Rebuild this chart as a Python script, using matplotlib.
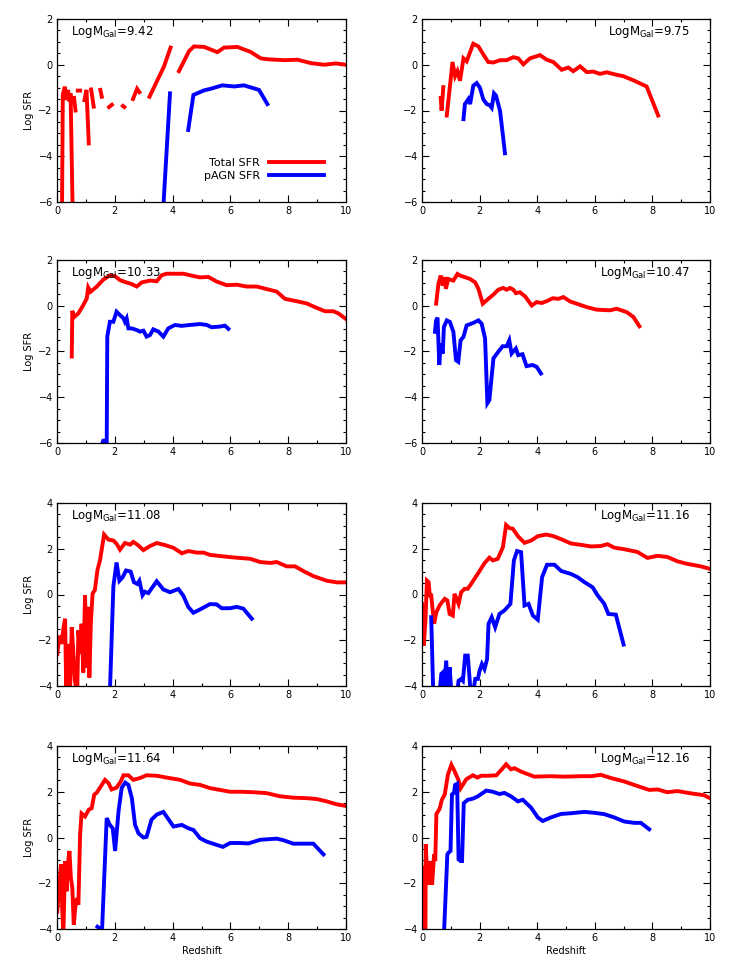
import numpy as np
import matplotlib
matplotlib.use("Agg")
import matplotlib.pyplot as plt
from matplotlib.ticker import MultipleLocator

plt.rcParams['font.family'] = ['DejaVu Sans']
plt.rcParams['mathtext.default'] = 'regular'

N = np.nan
BOT = -7.0  # value drawn below the axis floor (log of ~0)

# ---------------- data ----------------
labels = ['9.42', '9.75', '10.33', '10.47', '11.08', '11.16', '11.64', '12.16']

z1_tot = [0.17, 0.20, 0.27, 0.33, 0.38, 0.42, 0.47, 0.55, N, 0.59, 0.64, N, 0.72, 0.80, N,
          0.95, 1.02, 1.10, N, 1.18, 1.27, N, 1.50, 1.55, N, 1.80, 1.90, N, 2.28, 2.33, N,
          2.63, 2.77, 2.85, N, 3.20, 3.70, 3.93, N, 4.22, 4.57, 4.74, 5.09, 5.55, 5.78, 6.24,
          6.70, 7.05, 7.28, 7.86, 8.32, 8.79, 9.25, 9.65, 10.0]
s1_tot = [BOT, -1.32, -0.96, -1.54, -1.10, -1.60, -1.25, BOT, N, -1.45, -2.00, N, -1.13, -1.13, N,
          -1.55, -1.10, -3.44, N, -1.08, -1.83, N, -1.10, -1.40, N, -1.85, -1.75, N, -1.80, -1.85, N,
          -1.50, -1.05, -1.20, N, -1.40, -0.08, 0.75, N, -0.28, 0.60, 0.80, 0.78, 0.55, 0.75, 0.78,
          0.56, 0.28, 0.24, 0.20, 0.22, 0.07, 0.00, 0.06, 0.00]
z1_agn = [3.68, 3.91, N, 4.54, 4.72, 5.09, 5.32, 5.72, 6.13, 6.47, 6.99, 7.28]
s1_agn = [-6.2, -1.25, N, -2.85, -1.32, -1.12, -1.05, -0.90, -0.95, -0.90, -1.10, -1.72]

z2_tot = [0.65, 0.68, 0.74, N, 0.86, 1.06, 1.15, 1.23, 1.32, 1.44, 1.55, 1.78, 1.96, 2.13,
          2.30, 2.48, 2.71, 2.94, 3.17, 3.34, 3.52, 3.75, 4.10, 4.33, 4.56, 4.85, 5.08, 5.25,
          5.49, 5.72, 5.95, 6.18, 6.41, 6.76, 6.99, 7.34, 7.80, 8.20]
s2_tot = [-1.45, -2.00, -0.98, N, -2.22, 0.12, -0.50, -0.28, -0.70, 0.28, 0.15, 0.92, 0.80, 0.45,
          0.12, 0.10, 0.20, 0.20, 0.33, 0.28, 0.02, 0.28, 0.42, 0.22, 0.12, -0.22, -0.12, -0.28,
          -0.07, -0.32, -0.30, -0.40, -0.33, -0.44, -0.50, -0.68, -0.95, -2.22]
z2_agn = [1.44, 1.49, 1.61, 1.67, 1.78, 1.90, 2.01, 2.13, 2.25, 2.36, 2.42, 2.50, 2.57, 2.71, 2.82, 2.88]
s2_agn = [-2.38, -1.72, -1.50, -1.72, -0.92, -0.80, -1.00, -1.52, -1.72, -1.78, -1.88, -1.25, -1.35,
          -2.02, -3.20, -3.87]

z3_tot = [0.51, 0.53, 0.59, 0.74, 0.91, 1.03, 1.08, 1.16, 1.37, 1.60, 1.83, 2.00, 2.18, 2.35,
          2.58, 2.76, 2.93, 3.22, 3.45, 3.62, 3.79, 4.37, 4.72, 4.95, 5.24, 5.52, 5.87, 6.22,
          6.56, 6.91, 7.25, 7.60, 7.89, 8.29, 8.64, 8.98, 9.27, 9.56, 9.73, 10.0]
s3_tot = [-2.22, -0.22, -0.50, -0.33, 0.03, 0.32, 0.80, 0.61, 0.83, 1.14, 1.33, 1.30, 1.12, 1.04,
          0.95, 0.84, 1.02, 1.10, 1.07, 1.33, 1.40, 1.40, 1.30, 1.24, 1.26, 1.06, 0.90, 0.92,
          0.84, 0.84, 0.73, 0.62, 0.30, 0.20, 0.10, -0.09, -0.24, -0.24, -0.33, -0.58]
z3_agn = [1.55, 1.60, 1.66, 1.72, 1.74, 1.83, 1.95, 2.06, 2.18, 2.30, 2.35, 2.41, 2.47, 2.58,
          2.76, 2.87, 2.99, 3.10, 3.22, 3.33, 3.51, 3.68, 3.85, 4.08, 4.31, 4.60, 4.95, 5.18,
          5.35, 5.64, 5.81, 5.93]
s3_agn = [-6.1, -5.9, -5.9, -6.1, -1.35, -0.70, -0.70, -0.26, -0.41, -0.55, -0.70, -0.55, -0.99,
          -0.99, -1.06, -1.13, -1.09, -1.35, -1.28, -1.03, -1.13, -1.35, -0.99, -0.84, -0.88,
          -0.84, -0.80, -0.84, -0.94, -0.91, -0.87, -1.01]

z4_tot = [0.49, 0.57, 0.65, 0.72, 0.80, 0.83, 0.91, 1.09, 1.23, 1.32, 1.49, 1.67, 1.84, 1.96,
          2.11, 2.30, 2.48, 2.65, 2.82, 2.94, 3.06, 3.17, 3.26, 3.40, 3.58, 3.81, 3.98, 4.16,
          4.33, 4.54, 4.73, 4.91, 5.14, 5.37, 5.72, 6.06, 6.53, 6.76, 7.11, 7.34, 7.55]
s4_tot = [0.09, 0.96, 1.32, 0.88, 1.25, 0.74, 1.17, 1.10, 1.39, 1.32, 1.25, 1.17, 1.03, 0.74,
          0.09, 0.30, 0.49, 0.70, 0.78, 0.70, 0.78, 0.70, 0.55, 0.59, 0.41, 0.01, 0.16, 0.12,
          0.20, 0.33, 0.30, 0.38, 0.19, 0.09, -0.06, -0.17, -0.20, -0.13, -0.28, -0.49, -0.90]
z4_agn = [0.45, 0.49, 0.54, 0.60, 0.65, 0.72, 0.76, 0.86, 0.97, 1.09, 1.18, 1.26, 1.34, 1.44,
          1.55, 1.78, 1.96, 2.07, 2.19, 2.27, 2.34, 2.48, 2.65, 2.80, 2.94, 3.03, 3.11, 3.26,
          3.34, 3.49, 3.63, 3.84, 3.98, 4.13]
s4_agn = [-1.14, -0.64, -0.52, -2.59, -1.65, -2.09, -0.93, -0.64, -0.71, -1.14, -2.38, -2.45,
          -1.51, -1.36, -0.86, -0.75, -0.64, -0.78, -1.43, -4.26, -4.12, -2.30, -2.01, -1.77,
          -1.77, -1.51, -2.09, -1.87, -2.16, -2.12, -2.64, -2.59, -2.67, -2.96]

z5_tot = [0.01, 0.08, 0.16, 0.22, 0.28, 0.32, 0.37, 0.45, 0.51, 0.57, 0.62, 0.70, 0.74, 0.80,
          0.85, 0.91, 0.97, 1.03, 1.08, 1.12, 1.17, 1.23, 1.31, 1.40, 1.49, 1.63, 1.78, 1.95,
          2.06, 2.18, 2.35, 2.53, 2.64, 2.81, 2.99, 3.22, 3.45, 3.74, 4.03, 4.32, 4.55, 4.84,
          5.07, 5.30, 5.65, 6.11, 6.69, 7.03, 7.38, 7.60, 7.95, 8.24, 8.53, 8.88, 9.34, 9.68, 10.0]
s5_tot = [-2.60, -1.80, -2.16, -1.50, -1.06, -4.30, -2.16, -4.30, -1.43, -2.60, -3.78, -4.30,
          -1.57, -2.60, -1.28, -3.41, -0.03, -3.19, -0.54, -3.63, -1.28, 0.04, 0.19, 1.07, 1.51,
          2.62, 2.40, 2.36, 2.22, 1.96, 2.25, 2.18, 2.30, 2.15, 1.94, 2.12, 2.25, 2.16, 2.04,
          1.80, 1.90, 1.83, 1.83, 1.73, 1.68, 1.62, 1.56, 1.42, 1.38, 1.42, 1.23, 1.23, 1.02,
          0.80, 0.60, 0.53, 0.53]
z5_agn = [1.83, 1.95, 2.06, 2.16, 2.27, 2.39, 2.55, 2.66, 2.78, 2.85, 2.96, 3.04, 3.16, 3.45,
          3.68, 3.91, 4.20, 4.37, 4.54, 4.72, 5.00, 5.29, 5.52, 5.70, 5.99, 6.22, 6.45, 6.74]
s5_agn = [-4.3, 0.34, 1.40, 0.60, 0.75, 1.05, 1.00, 0.54, 0.46, 0.60, -0.03, 0.12, 0.06, 0.58,
          0.22, 0.10, 0.24, -0.05, -0.54, -0.80, -0.62, -0.42, -0.43, -0.60, -0.60, -0.54,
          -0.62, -1.06]

z6_tot = [0.00, 0.06, 0.12, 0.17, 0.23, 0.27, 0.32, 0.42, 0.50, 0.61, 0.69, 0.79, 0.88, 0.96,
          1.07, 1.13, 1.27, 1.36, 1.48, 1.59, 1.71, 1.94, 2.17, 2.34, 2.46, 2.63, 2.81, 2.92,
          3.04, 3.15, 3.33, 3.56, 3.79, 4.02, 4.31, 4.54, 4.83, 5.17, 5.52, 5.87, 6.21, 6.44,
          6.67, 7.02, 7.48, 7.83, 8.18, 8.52, 8.87, 9.21, 9.68, 10.0]
s6_tot = [-0.41, -2.23, -1.14, 0.61, 0.54, -0.04, -0.04, -1.28, -0.77, -0.48, -0.34, -0.19,
          -0.26, -0.85, -0.92, 0.03, -0.41, 0.10, 0.25, 0.25, 0.47, 0.91, 1.37, 1.61, 1.49,
          1.56, 2.07, 3.04, 2.90, 2.88, 2.55, 2.26, 2.36, 2.55, 2.62, 2.56, 2.42, 2.23, 2.17,
          2.10, 2.12, 2.20, 2.05, 1.98, 1.86, 1.60, 1.69, 1.64, 1.45, 1.34, 1.23, 1.12]
z6_agn = [0.32, 0.36, 0.39, N, 0.61, 0.67, 0.73, 0.76, 0.84, 0.90, 0.96, 1.02, N, 1.22, 1.27,
          1.36, 1.42, 1.50, 1.59, 1.69, N, 1.77, 1.85, 1.94, 2.00, 2.08, 2.17, 2.26, 2.31,
          2.42, 2.54, 2.69, 2.86, 3.07, 3.19, 3.30, 3.44, 3.56, 3.70, 3.85, 4.02, 4.17, 4.34,
          4.60, 4.83, 5.17, 5.40, 5.64, 5.92, 6.10, 6.33, 6.47, 6.73, 7.00]
s6_agn = [-0.99, -2.89, -4.30, N, -4.30, -3.47, -3.40, -4.30, -2.89, -4.30, -3.18, -4.30, N,
          -4.30, -3.77, -3.69, -3.77, -2.67, -2.67, -4.30, N, -4.30, -3.69, -3.69, -3.33, -3.04,
          -3.26, -2.82, -1.28, -0.99, -1.43, -0.85, -0.70, -0.41, 1.49, 1.90, 1.85, -0.48,
          -0.41, -0.92, -1.10, 0.76, 1.30, 1.30, 1.03, 0.90, 0.76, 0.54, 0.32, -0.04, -0.41,
          -0.85, -0.88, -2.19]

z7_tot = [0.01, 0.08, 0.14, 0.18, 0.22, 0.28, 0.33, 0.39, 0.43, 0.48, 0.53, 0.58, 0.63, 0.69,
          0.74, 0.80, 0.85, 0.97, 1.10, 1.20, 1.29, 1.37, 1.55, 1.66, 1.78, 1.89, 2.06, 2.21,
          2.30, 2.47, 2.64, 2.87, 3.10, 3.45, 3.79, 4.26, 4.60, 4.95, 5.29, 5.64, 5.99, 6.33,
          6.79, 7.25, 7.72, 8.18, 8.64, 8.99, 9.33, 9.68, 10.0]
s7_tot = [-3.24, -2.06, -1.18, -3.09, -4.30, -1.03, -2.35, -1.03, -0.59, -1.76, -2.21, -3.82,
          -3.09, -2.65, -2.94, 0.15, 1.05, 0.92, 1.22, 1.28, 1.88, 1.95, 2.30, 2.52, 2.38,
          2.10, 2.18, 2.46, 2.72, 2.72, 2.52, 2.60, 2.72, 2.70, 2.62, 2.52, 2.36, 2.30, 2.16,
          2.08, 2.00, 2.00, 1.98, 1.94, 1.80, 1.74, 1.72, 1.68, 1.58, 1.45, 1.38]
z7_agn = [1.40, 1.47, 1.55, 1.72, 1.83, 1.93, 2.01, 2.13, 2.24, 2.36, 2.47, 2.59, 2.70, 2.82,
          2.99, 3.10, 3.27, 3.45, 3.68, 3.79, 4.03, 4.32, 4.55, 4.72, 4.95, 5.18, 5.47, 5.74,
          5.99, 6.33, 6.62, 7.03, 7.60, 7.84, 8.18, 8.87, 9.22]
s7_agn = [-3.90, -3.97, -4.30, 0.85, 0.55, 0.40, -0.59, 1.15, 2.18, 2.40, 2.30, 1.72, 0.56,
          0.18, 0.00, 0.03, 0.78, 1.00, 1.12, 0.92, 0.48, 0.55, 0.40, 0.33, -0.03, -0.18,
          -0.30, -0.41, -0.24, -0.24, -0.26, -0.10, -0.05, -0.12, -0.27, -0.27, -0.74]

z8_tot = [0.00, 0.07, 0.12, 0.13, 0.17, 0.23, 0.28, 0.35, 0.42, 0.46, 0.50, 0.61, 0.69, 0.79,
          0.90, 1.02, 1.13, 1.27, 1.34, 1.54, 1.77, 1.92, 2.06, 2.34, 2.58, 2.75, 2.92, 3.09,
          3.21, 3.44, 3.90, 4.48, 4.94, 5.52, 5.87, 6.21, 6.56, 7.02, 7.48, 7.89, 8.18, 8.52,
          8.87, 9.33, 9.79, 10.0]
s8_tot = [-1.32, -3.09, -4.30, -0.29, -1.40, -2.06, -1.03, -2.06, -0.74, -1.03, 1.03, 1.25,
          1.65, 1.88, 2.75, 3.18, 2.90, 2.50, 2.15, 2.55, 2.72, 2.62, 2.70, 2.70, 2.72, 2.95,
          3.20, 2.98, 3.03, 2.88, 2.66, 2.68, 2.66, 2.68, 2.68, 2.74, 2.60, 2.45, 2.25, 2.08,
          2.10, 1.98, 2.03, 1.93, 1.85, 1.72]
z8_agn = [0.76, 0.88, 0.92, 0.99, 1.04, 1.11, 1.15, 1.22, 1.27, 1.34, 1.39, 1.45, 1.59, 1.77,
          1.94, 2.23, 2.46, 2.69, 2.86, 3.09, 3.33, 3.50, 3.79, 4.02, 4.19, 4.48, 4.83, 5.17,
          5.64, 5.98, 6.33, 6.67, 7.02, 7.37, 7.60, 7.89]
s8_agn = [-4.30, -0.74, -0.66, -0.59, 1.88, 1.95, 2.30, 2.35, -0.96, -1.03, -1.03, 1.50, 1.65,
          1.70, 1.80, 2.05, 2.00, 1.90, 1.95, 1.80, 1.58, 1.65, 1.30, 0.88, 0.72, 0.88, 1.03,
          1.06, 1.12, 1.08, 1.02, 0.88, 0.70, 0.64, 0.64, 0.36]

tot_z = [z1_tot, z2_tot, z3_tot, z4_tot, z5_tot, z6_tot, z7_tot, z8_tot]
tot_s = [s1_tot, s2_tot, s3_tot, s4_tot, s5_tot, s6_tot, s7_tot, s8_tot]
agn_z = [z1_agn, z2_agn, z3_agn, z4_agn, z5_agn, z6_agn, z7_agn, z8_agn]
agn_s = [s1_agn, s2_agn, s3_agn, s4_agn, s5_agn, s6_agn, s7_agn, s8_agn]
ylims = [(-6, 2), (-6, 2), (-6, 2), (-6, 2), (-4, 4), (-4, 4), (-4, 4), (-4, 4)]

# ---------------- layout ----------------
W, H = 747, 967
fig = plt.figure(figsize=(W / 100, H / 100), dpi=100)
col_x = [57, 422]
col_w = [289, 288]
row_top = [19, 260, 503, 746]
ax_h = 183

RED = '#ff0000'
BLUE = '#0000ff'
LW = 2.8

for i in range(8):
    r, c = divmod(i, 2)
    left = col_x[c] / W
    bottom = 1 - (row_top[r] + ax_h) / H
    ax = fig.add_axes([left, bottom, col_w[c] / W, ax_h / H])
    ax.plot(tot_z[i], tot_s[i], color=RED, lw=LW, solid_joinstyle='miter',
            label='Total SFR')
    ax.plot(agn_z[i], agn_s[i], color=BLUE, lw=LW, solid_joinstyle='miter',
            label='pAGN SFR')
    ax.set_xlim(0, 10)
    ax.set_ylim(*ylims[i])
    ax.xaxis.set_major_locator(MultipleLocator(2))
    ax.xaxis.set_minor_locator(MultipleLocator(1))
    ax.yaxis.set_major_locator(MultipleLocator(2))
    ax.yaxis.set_minor_locator(MultipleLocator(0.5))
    ax.tick_params(which='both', direction='in', top=True, right=True,
                   labelsize=7, width=0.8, pad=3)
    ax.tick_params(which='major', length=5)
    ax.tick_params(which='minor', length=2.5)
    for sp in ax.spines.values():
        sp.set_linewidth(0.9)
    txt = r'LogM$_{Gal}$=' + labels[i]
    if c == 0:
        ax.text(0.05, 0.975, txt, transform=ax.transAxes, ha='left', va='top', fontsize=8.5)
        ax.set_ylabel('Log SFR', fontsize=7, labelpad=3)
    else:
        ax.text(0.93, 0.975, txt, transform=ax.transAxes, ha='right', va='top', fontsize=8.5)
    if r == 3:
        ax.set_xlabel('Redshift', fontsize=7, labelpad=2)
    if i == 0:
        ax.legend(loc='lower right', bbox_to_anchor=(0.94, 0.09), frameon=False,
                  markerfirst=False, fontsize=8, handlelength=5.0, handletextpad=0.8,
                  labelspacing=0.25, borderaxespad=0.0)

fig.savefig('out.png', dpi=100)
